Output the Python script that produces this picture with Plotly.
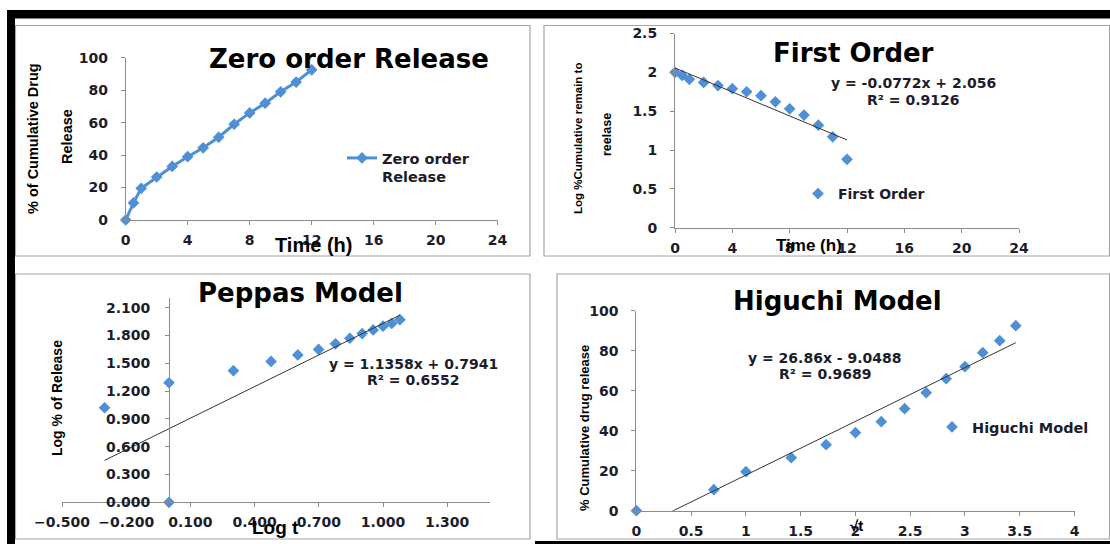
import numpy as np
import plotly.graph_objects as go

W, H = 1110, 544

# ---------------- data ----------------
time_h = [0, 0.5, 1, 2, 3, 4, 5, 6, 7, 8, 9, 10, 11, 12]
cum_release = [0, 10.5, 19.5, 26.5, 33, 39, 44.5, 51, 59, 66, 72, 79, 85, 92.5]

log_remain = [2.00, 1.96, 1.91, 1.87, 1.83, 1.79, 1.75, 1.70, 1.62, 1.53, 1.45, 1.32, 1.17, 0.88]

log_t = [0.0, -0.301, 0.0, 0.301, 0.477, 0.602, 0.699, 0.778, 0.845, 0.903, 0.954, 1.000, 1.041, 1.079]
log_release = [0.0, 1.02, 1.29, 1.42, 1.52, 1.59, 1.65, 1.71, 1.77, 1.82, 1.86, 1.90, 1.93, 1.97]

sqrt_t = [0, 0.707, 1, 1.414, 1.732, 2, 2.236, 2.449, 2.646, 2.828, 3, 3.162, 3.317, 3.464]
higuchi_release = [0, 10.5, 19.5, 26.5, 33, 39, 44.5, 51, 59, 66, 72, 79, 85, 92.5]

# trendline coefficients (slope, intercept) as printed on the chart
first_fit = [-0.0772, 2.056]
peppas_fit = [1.1358, 0.7941]
higuchi_fit = [26.86, -9.0488]

first_eq = ["y = -0.0772x + 2.056", "R² = 0.9126"]
peppas_eq = ["y = 1.1358x + 0.7941", "R² = 0.6552"]
higuchi_eq = ["y = 26.86x - 9.0488", "R² = 0.9689"]

# ---------------- style ----------------
BLUE = "#4F8FD6"
AXC = "#8C8C8C"
TXT = "#1c1c2c"
TICKFONT = dict(family="DejaVu Sans", size=14, color=TXT, weight="bold")
SMALLFONT = dict(family="DejaVu Sans", size=14, color=TXT, weight="bold")
LEGFONT = dict(family="DejaVu Sans", size=14.5, color=TXT, weight="bold")
TITLEFONT = dict(family="DejaVu Sans", size=26, color="#000000", weight="bold")


def fx(p):
    return p / W


def fy(p):
    return 1 - p / H


def axis(rng, **kw):
    d = dict(range=rng, showgrid=False, zeroline=False, showline=True,
             linecolor=AXC, linewidth=1, ticks="outside", ticklen=4,
             tickcolor=AXC, tickfont=TICKFONT, fixedrange=True, automargin=False)
    d.update(kw)
    return d


fig = go.Figure()

# Panel 1: Zero order
fig.add_trace(go.Scatter(x=time_h, y=cum_release, mode="lines+markers",
                         name="Zero order<br>Release",
                         line=dict(color=BLUE, width=3),
                         marker=dict(symbol="diamond", size=9, color=BLUE),
                         cliponaxis=False, xaxis="x", yaxis="y", legend="legend"))

# Panel 2: First order
fig.add_trace(go.Scatter(x=time_h, y=log_remain, mode="markers", name="First Order",
                         marker=dict(symbol="diamond", size=9, color=BLUE),
                         cliponaxis=False, xaxis="x2", yaxis="y2", legend="legend2"))
fx2 = np.array([min(time_h), max(time_h)])
fig.add_trace(go.Scatter(x=fx2, y=first_fit[0] * fx2 + first_fit[1], mode="lines",
                         line=dict(color="#333333", width=1), showlegend=False,
                         xaxis="x2", yaxis="y2"))

# Panel 3: Peppas
fig.add_trace(go.Scatter(x=log_t, y=log_release, mode="markers", name="Peppas",
                         marker=dict(symbol="diamond", size=9, color=BLUE),
                         cliponaxis=False, showlegend=False, xaxis="x3", yaxis="y3"))
fx3 = np.array([min(log_t), max(log_t)])
fig.add_trace(go.Scatter(x=fx3, y=peppas_fit[0] * fx3 + peppas_fit[1], mode="lines",
                         line=dict(color="#333333", width=1), showlegend=False,
                         xaxis="x3", yaxis="y3"))

# Panel 4: Higuchi
fig.add_trace(go.Scatter(x=sqrt_t, y=higuchi_release, mode="markers", name="Higuchi Model",
                         marker=dict(symbol="diamond", size=9, color=BLUE),
                         cliponaxis=False, xaxis="x4", yaxis="y4", legend="legend3"))
fx4 = np.array([min(sqrt_t), max(sqrt_t)])
fig.add_trace(go.Scatter(x=fx4, y=higuchi_fit[0] * fx4 + higuchi_fit[1], mode="lines",
                         line=dict(color="#333333", width=1), showlegend=False,
                         xaxis="x4", yaxis="y4"))

layout = dict(
    width=W, height=H, margin=dict(l=0, r=0, t=0, b=0, pad=0, autoexpand=False),
    paper_bgcolor="white", plot_bgcolor="white",
    xaxis=axis([0, 24], domain=[fx(125.7), fx(497.6)], anchor="y",
               tickmode="linear", tick0=0, dtick=4, ticklabelstandoff=3),
    yaxis=axis([0, 100], domain=[fy(220), fy(57.7)], anchor="x",
               tickmode="linear", tick0=0, dtick=20, ticklabelstandoff=10),
    xaxis2=axis([0, 24], domain=[fx(675), fx(1019)], anchor="y2",
                tickmode="linear", tick0=0, dtick=4, ticklabelstandoff=3),
    yaxis2=axis([0, 2.5], domain=[fy(227.7), fy(33.5)], anchor="x2",
                tickmode="linear", tick0=0, dtick=0.5, ticklabelstandoff=10),
    xaxis3=axis([-0.5, 1.5], domain=[fx(62), fx(490)], anchor="y3",
                tickmode="linear", tick0=-0.5, dtick=0.3, tickformat=".3f",
                ticklabelstandoff=3),
    yaxis3=axis([0, 2.2], domain=[fy(502.3), fy(298.4)], anchor="free",
                position=fx(169), tickmode="linear", tick0=0, dtick=0.3,
                tickformat=".3f", ticklabelstandoff=12),
    xaxis4=axis([0, 4], domain=[fx(636.4), fx(1074.5)], anchor="y4",
                tickmode="linear", tick0=0, dtick=0.5, ticklabelstandoff=3),
    yaxis4=axis([0, 100], domain=[fy(510.7), fy(310.7)], anchor="x4",
                tickmode="linear", tick0=0, dtick=20, ticklabelstandoff=10),
    legend=dict(x=fx(342), y=fy(142), xanchor="left", yanchor="top",
                font=LEGFONT, bgcolor="rgba(0,0,0,0)", valign="top", itemwidth=30),
    legend2=dict(x=fx(798), y=fy(194), xanchor="left", yanchor="middle",
                 font=SMALLFONT, bgcolor="rgba(0,0,0,0)"),
    legend3=dict(x=fx(932), y=fy(427), xanchor="left", yanchor="middle",
                 font=LEGFONT, bgcolor="rgba(0,0,0,0)"),
)
fig.update_layout(**layout)

ann = []


def text(x, y, s, font, angle=0):
    ann.append(dict(x=fx(x), y=fy(y), xref="paper", yref="paper", text=s,
                    showarrow=False, xanchor="center", yanchor="middle",
                    textangle=angle, font=font))


# chart titles
text(349, 59, "Zero order Release", TITLEFONT)
text(853, 53, "First Order", TITLEFONT)
text(300, 293, "Peppas Model", TITLEFONT)
text(837, 301, "Higuchi Model", TITLEFONT)

# equations
text(913, 83, first_eq[0], SMALLFONT)
text(913, 100, first_eq[1], SMALLFONT)
text(413, 364, peppas_eq[0], SMALLFONT)
text(413, 380, peppas_eq[1], SMALLFONT)
text(824.5, 358, higuchi_eq[0], SMALLFONT)
text(824.5, 374, higuchi_eq[1], SMALLFONT)

AT = "Liberation Sans"
# axis titles
text(313, 245, "Time (h)", dict(family=AT, size=20, color="black", weight="bold"))
text(33, 139, "% of Cumulative Drug", dict(family=AT, size=14.5, color="black", weight="bold"), -90)
text(67, 137, "Release", dict(family=AT, size=14.5, color="black", weight="bold"), -90)
text(809, 245, "Time (h)", dict(family=AT, size=17, color="black", weight="bold"))
text(578, 139, "Log %Cumulative remain to", dict(family=AT, size=11.5, color="black", weight="bold"), -90)
text(607, 135, "reelase", dict(family=AT, size=12.5, color="black", weight="bold"), -90)
text(275.5, 527, "Log t", dict(family=AT, size=19, color="black", weight="bold"))
text(57, 398, "Log % of Release", dict(family=AT, size=14, color="black", weight="bold"), -90)
text(856, 525, "√t", dict(family=AT, size=15, color="black", weight="bold"))
text(584, 428, "% Cumulative drug release", dict(family=AT, size=13, color="black", weight="bold"), -90)

shapes = []


def rect(x0, y0, x1, y1, **kw):
    d = dict(type="rect", xref="paper", yref="paper",
             x0=fx(x0), x1=fx(x1), y0=fy(y1), y1=fy(y0), layer="above")
    d.update(kw)
    shapes.append(d)


# panel frames
frame = dict(line=dict(color="#A6A6A6", width=1.2), fillcolor="rgba(0,0,0,0)")
rect(15.5, 25.5, 530, 256, **frame)
rect(544, 25.5, 1109.5, 256, **frame)
rect(15.5, 274, 530, 539, **frame)
rect(557, 274, 1109.5, 539, **frame)
# black page bars
blk = dict(line=dict(width=0), fillcolor="black")
rect(7, 10, 1110, 18.5, **blk)
rect(7, 10, 15, 544, **blk)
rect(535, 541, 1110, 544, **blk)

fig.update_layout(annotations=ann, shapes=shapes, showlegend=True)

fig.write_html("out.html", config={"displayModeBar": False},
               post_script="document.body.style.margin='0';document.body.style.overflow='hidden';")
